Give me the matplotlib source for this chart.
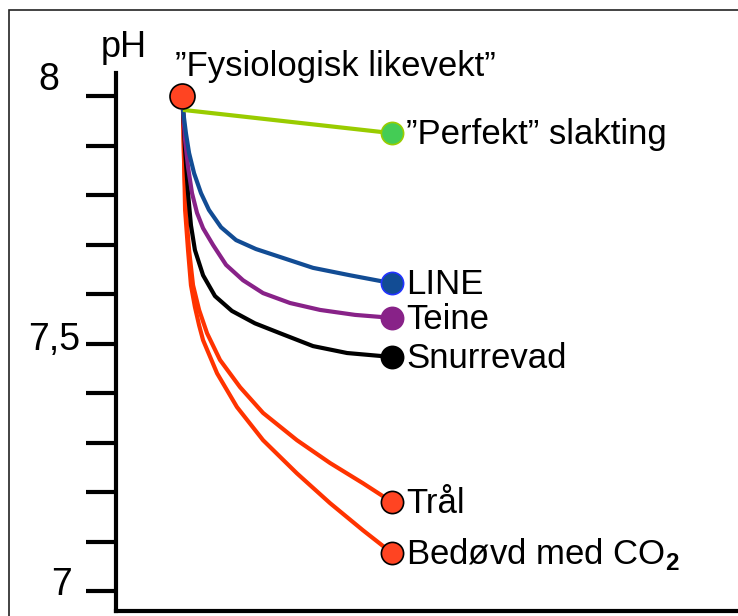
import numpy as np
import matplotlib
matplotlib.use('Agg')
import matplotlib.pyplot as plt
from matplotlib.patches import Rectangle

plt.rcParams['font.family'] = ['Liberation Sans', 'DejaVu Sans']
plt.rcParams['mathtext.fontset'] = 'custom'
plt.rcParams['mathtext.rm'] = 'Liberation Sans'
plt.rcParams['mathtext.bf'] = 'Liberation Sans:bold'

# tid (vilkårlige enheter) og pH lest av figuren
t_line = [0, 0.14, 0.29, 0.53, 0.86, 1.24, 1.82, 2.54, 3.49, 4.64, 6.22, 7.99, 10.0]
ph_line = [7.972, 7.925, 7.885, 7.844, 7.804, 7.770, 7.735, 7.709, 7.691, 7.675, 7.653, 7.638, 7.622]

t_teine = [0, 0.10, 0.24, 0.43, 0.67, 0.96, 1.44, 2.06, 2.87, 3.83, 5.12, 6.56, 8.23, 10.0]
ph_teine = [7.972, 7.911, 7.857, 7.804, 7.764, 7.733, 7.699, 7.659, 7.628, 7.602, 7.582, 7.568, 7.558, 7.552]

t_snurre = [0, 0.10, 0.24, 0.38, 0.57, 0.96, 1.53, 2.34, 3.44, 4.64, 6.22, 7.85, 10.0]
ph_snurre = [7.972, 7.891, 7.804, 7.739, 7.689, 7.638, 7.596, 7.566, 7.541, 7.521, 7.495, 7.481, 7.473]

t_tral = [0, 0.05, 0.14, 0.29, 0.48, 0.77, 1.15, 1.77, 2.73, 3.83, 5.45, 7.03, 8.61, 10.0]
ph_tral = [7.972, 7.871, 7.770, 7.689, 7.618, 7.568, 7.521, 7.467, 7.412, 7.360, 7.305, 7.259, 7.218, 7.180]

t_co2 = [0, 0.05, 0.10, 0.24, 0.38, 0.57, 0.77, 0.96, 1.63, 2.58, 3.83, 5.45, 7.03, 8.61, 10.0]
ph_co2 = [7.972, 7.871, 7.770, 7.689, 7.618, 7.574, 7.537, 7.507, 7.440, 7.372, 7.305, 7.238, 7.178, 7.123, 7.077]

t_perfekt = [0, 10.0]
ph_perfekt = [7.972, 7.925]

start_t, start_ph = -0.05, 8.0

fig = plt.figure(figsize=(7.38, 6.16), dpi=100)
fig.patches.append(Rectangle((9 / 738, -0.1), 1.2, 1.1 - 10 / 616, transform=fig.transFigure,
                             fill=False, edgecolor='#222222', linewidth=1.2))
ax = fig.add_axes([116 / 738, 5 / 616, 1 - 116 / 738, 538 / 616])
ax.set_facecolor('none')

red = '#ff3300'
series = [
    (t_co2, ph_co2, red, '#ff4422', 'black', 'Bedøvd med CO$_\\mathbf{2}$'),
    (t_tral, ph_tral, red, '#ff4422', 'black', 'Trål'),
    (t_snurre, ph_snurre, 'black', 'black', 'black', 'Snurrevad'),
    (t_teine, ph_teine, '#882288', '#882288', '#882288', 'Teine'),
    (t_line, ph_line, '#124c94', '#124c94', '#2233ff', 'LINE'),
    (t_perfekt, ph_perfekt, '#99cc00', '#44cc55', '#99cc00', '”Perfekt” slakting'),
]
for t, ph, lc, fc, ec, label in series:
    ax.plot(t, ph, color=lc, lw=3.0, solid_joinstyle='round', solid_capstyle='butt', zorder=2)
    ax.plot(t[-1], ph[-1], 'o', ms=16, mfc=fc, mec=ec, mew=1.2, zorder=3)
    ax.annotate(label, (t[-1], ph[-1]), xytext=(10, -1), textcoords='offset points',
                fontsize=25, va='center', ha='left', zorder=4)

ax.plot(start_t, start_ph, 'o', ms=18, mfc='#ff4422', mec='black', mew=1.2, zorder=5)
ax.annotate('”Fysiologisk likevekt”', (start_t, start_ph), xytext=(-5, 14.4),
            textcoords='offset points', fontsize=25, ha='left', va='baseline')

ax.set_xlim(-3.206, 26.555)
ax.set_ylim(6.960, 8.0465)
ax.set_yticks(np.arange(7.0, 8.01, 0.1))
ax.set_yticklabels([])
ax.set_xticks([])
for s in ['top', 'right']:
    ax.spines[s].set_visible(False)
for s in ['left', 'bottom']:
    ax.spines[s].set_linewidth(3.0)
ax.tick_params(axis='y', direction='out', length=21.5, width=3.0)

# ytiketter plassert som i originalen
ax.text(-6.41, 8.032, '8', fontsize=27, ha='center', va='center', clip_on=False)
ax.text(-4.93, 7.507, '7,5', fontsize=27, ha='right', va='center', clip_on=False)
ax.text(-5.79, 7.012, '7', fontsize=27, ha='center', va='center', clip_on=False)
fig.text(124 / 738, 1 - 57 / 616, 'pH', fontsize=26, ha='center', va='baseline')

fig.savefig('out.png', dpi=100)
